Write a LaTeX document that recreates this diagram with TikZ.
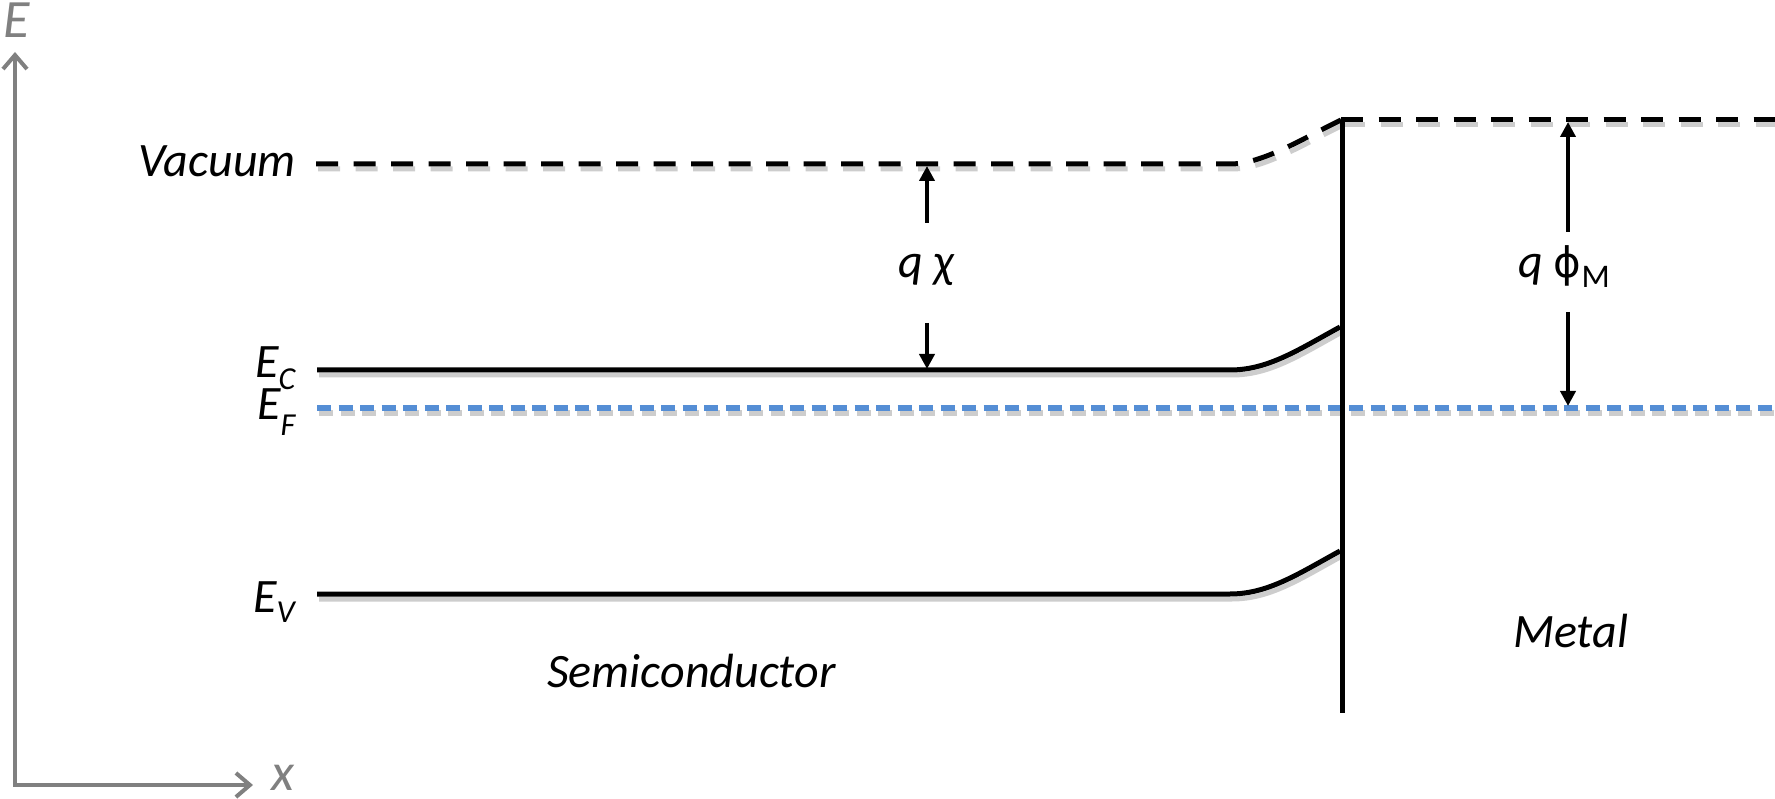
\documentclass[tikz,border=0pt]{standalone}
\usepackage{fontspec}
\setmainfont{Carlito}
\newfontfamily\dejavu{DejaVu Sans}
\usetikzlibrary{arrows.meta}
\definecolor{axisgray}{RGB}{128,128,128}
\definecolor{efblue}{RGB}{85,142,213}
\definecolor{shadowgray}{RGB}{205,205,205}
\tikzset{
  lbl/.style={inner sep=0pt, font=\fontsize{48}{56}\selectfont\itshape},
  band/.style={line width=5pt, black},
  vacline/.style={line width=5pt, black, dash pattern=on 22pt off 15.5pt},
  fermi/.style={line width=5.5pt, efblue, dash pattern=on 14pt off 7.5pt},
  shadow/.style={line width=5pt, shadowgray, transform canvas={shift={(2pt,-5pt)}}},
  axis/.style={line width=4pt, axisgray, -{Straight Barb[length=14pt,width=24pt]}},
  gap/.style={line width=4pt, black, -{Triangle[length=15pt,width=15pt]}},
}
\begin{document}
\begin{tikzpicture}[x=1pt,y=-1pt]
\useasboundingbox (0,0) rectangle (1775,799);
% coordinates
\coordinate (o) at (15,785);
\coordinate (ytop) at (15,52);
\coordinate (xend) at (253,785);
\coordinate (vacL) at (316,164);
\coordinate (vacB) at (1230,164);
\coordinate (vacI) at (1341,120);
\coordinate (vacR) at (1775,120);
\coordinate (ecL) at (317,370);
\coordinate (ecB) at (1230,370);
\coordinate (ecI) at (1340,327);
\coordinate (evL) at (317,594);
\coordinate (evB) at (1230,594);
\coordinate (evI) at (1340,551);
\coordinate (efL) at (317,408);
\coordinate (efR) at (1775,408);
\coordinate (ifT) at (1342,120);
\coordinate (ifB) at (1342,713);
\coordinate (chiT) at (927,166);
\coordinate (chiB) at (927,369);
\coordinate (chiU) at (927,223);
\coordinate (chiD) at (927,323);
\coordinate (phiT) at (1568,122);
\coordinate (phiB) at (1568,406);
\coordinate (phiU) at (1568,232);
\coordinate (phiD) at (1568,312);
% shadows
\draw[shadow, dash pattern=on 22pt off 15.5pt] (vacL) -- (vacB) .. controls (1262,164) and (1300,140) .. (vacI);
\draw[shadow, dash pattern=on 22pt off 15.5pt] (vacI) -- (vacR);
\draw[shadow] (ecL) -- (ecB) .. controls (1268,370) and (1298,350) .. (ecI);
\draw[shadow] (evL) -- (evB) .. controls (1268,594) and (1298,574) .. (evI);
\draw[shadow, dash pattern=on 14pt off 7.5pt] (efL) -- (efR);
% axes
\draw[axis] (o) -- (ytop);
\draw[axis, shorten <=-2pt] (o) -- (xend);
\node[lbl, text=axisgray, anchor=base west, font=\fontsize{54}{60}\selectfont\itshape] (Elab) at (3,38) {E};
\node[lbl, text=axisgray, anchor=base west, font=\fontsize{53}{60}\selectfont\itshape] (xlab) at (271,790) {x};
% levels
\draw[vacline] (vacL) -- (vacB) .. controls (1262,164) and (1300,140) .. (vacI);
\draw[vacline] (vacI) -- (vacR);
\draw[band] (ecL) -- (ecB) .. controls (1268,370) and (1298,350) .. (ecI);
\draw[band] (evL) -- (evB) .. controls (1268,594) and (1298,574) .. (evI);
\draw[fermi] (efL) -- (efR);
\draw[band] (ifT) -- (ifB);
% labels
\node[lbl, anchor=base east] (vac) at (296,177) {Vacuum};
\node[lbl, anchor=base west] (ec) at (255,378) {E\raisebox{-12pt}{\fontsize{32}{36}\selectfont C}};
\node[lbl, anchor=base west] (ef) at (257,420) {E\raisebox{-16pt}{\fontsize{32}{36}\selectfont F}};
\node[lbl, anchor=base west] (ev) at (253,612) {E\raisebox{-10pt}{\fontsize{32}{36}\selectfont V}};
\node[lbl, anchor=base west] (semi) at (547,687) {Semiconductor};
\node[lbl, anchor=base west] (metal) at (1513,647) {Metal};
% work function arrows
\node[lbl, anchor=base] (chi) at (926,278) {q χ};
\node[lbl, anchor=base] (phi) at (1564,278) {q {\upshape\dejavu\fontsize{42}{46}\selectfont ϕ}\raisebox{-10pt}{\upshape\fontsize{33}{36}\selectfont M}};
\draw[gap] (chiU) -- (chiT);
\draw[gap] (chiD) -- (chiB);
\draw[gap] (phiU) -- (phiT);
\draw[gap] (phiD) -- (phiB);
\end{tikzpicture}
\end{document}
